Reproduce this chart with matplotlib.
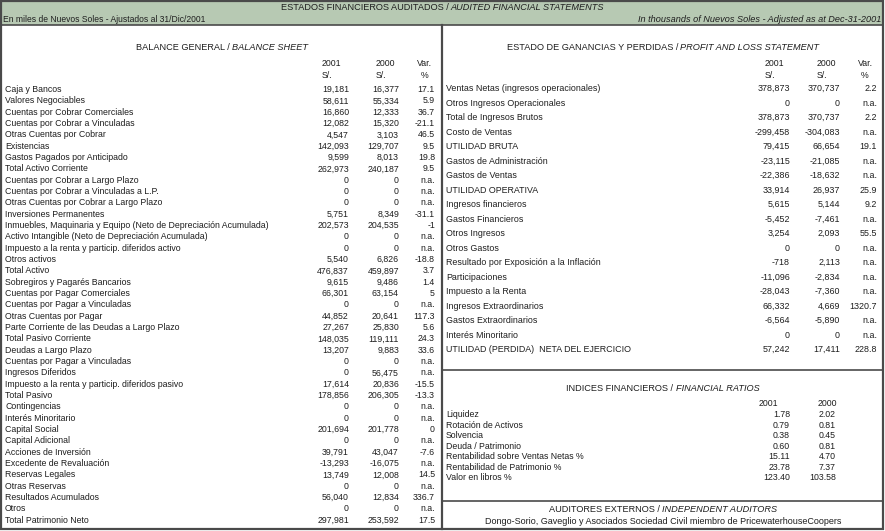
import matplotlib
matplotlib.use('Agg')
import matplotlib.pyplot as plt
from matplotlib.patches import Rectangle

plt.rcParams['font.family'] = ['Liberation Sans', 'DejaVu Sans']

# ---------------- DATA ----------------
title_es = "ESTADOS FINANCIEROS AUDITADOS /"
title_en = "AUDITED FINANCIAL STATEMENTS"
sub_left = "En miles de Nuevos Soles - Ajustados al 31/Dic/2001"
sub_right = "In thousands of Nuevos Soles - Adjusted as at Dec-31-2001"

bs_labels = [
    "Caja y Bancos", "Valores Negociables", "Cuentas por Cobrar Comerciales",
    "Cuentas por Cobrar a Vinculadas", "Otras Cuentas por Cobrar", "Existencias",
    "Gastos Pagados por Anticipado", "Total Activo Corriente",
    "Cuentas por Cobrar a Largo Plazo", "Cuentas por Cobrar a Vinculadas a L.P.",
    "Otras Cuentas por Cobrar a Largo Plazo", "Inversiones Permanentes",
    "Inmuebles, Maquinaria y Equipo (Neto de Depreciación Acumulada)",
    "Activo Intangible (Neto de Depreciación Acumulada)",
    "Impuesto a la renta y particip. diferidos activo", "Otros activos",
    "Total Activo", "Sobregiros y Pagarés Bancarios", "Cuentas por Pagar Comerciales",
    "Cuentas por Pagar a Vinculadas", "Otras Cuentas por Pagar",
    "Parte Corriente de las Deudas a Largo Plazo", "Total Pasivo Corriente",
    "Deudas a Largo Plazo", "Cuentas por Pagar a Vinculadas", "Ingresos Diferidos",
    "Impuesto a la renta y particip. diferidos pasivo", "Total Pasivo",
    "Contingencias", "Interés Minoritario", "Capital Social", "Capital Adicional",
    "Acciones de Inversión", "Excedente de Revaluación", "Reservas Legales",
    "Otras Reservas", "Resultados Acumulados", "Otros", "Total Patrimonio Neto",
]
bs_2001 = [19181, 58611, 16860, 12082, 4547, 142093, 9599, 262973, 0, 0, 0, 5751,
           202573, 0, 0, 5540, 476837, 9615, 66301, 0, 44852, 27267, 148035, 13207,
           0, 0, 17614, 178856, 0, 0, 201694, 0, 39791, -13293, 13749, 0, 56040, 0,
           297981]
bs_2000 = [16377, 55334, 12333, 15320, 3103, 129707, 8013, 240187, 0, 0, 0, 8349,
           204535, 0, 0, 6826, 459897, 9486, 63154, 0, 20641, 25830, 119111, 9883,
           0, 56475, 20836, 206305, 0, 0, 201778, 0, 43047, -16075, 12008, 0, 12834, 0,
           253592]
bs_var = [17.1, 5.9, 36.7, -21.1, 46.5, 9.5, 19.8, 9.5, None, None, None, -31.1,
          -1.0, None, None, -18.8, 3.7, 1.4, 5.0, None, 117.3, 5.6, 24.3, 33.6,
          None, None, -15.5, -13.3, None, None, 0.0, None, -7.6, None, 14.5, None,
          336.7, None, 17.5]

pl_labels = [
    "Ventas Netas (ingresos operacionales)", "Otros Ingresos Operacionales",
    "Total de Ingresos Brutos", "Costo de Ventas", "UTILIDAD BRUTA",
    "Gastos de Administración", "Gastos de Ventas", "UTILIDAD OPERATIVA",
    "Ingresos financieros", "Gastos Financieros", "Otros Ingresos", "Otros Gastos",
    "Resultado por Exposición a la Inflación", "Participaciones",
    "Impuesto a la Renta", "Ingresos Extraordinarios", "Gastos Extraordinarios",
    "Interés Minoritario", "UTILIDAD (PERDIDA)  NETA DEL EJERCICIO",
]
pl_2001 = [378873, 0, 378873, -299458, 79415, -23115, -22386, 33914, 5615, -5452,
           3254, 0, -718, -11096, -28043, 66332, -6564, 0, 57242]
pl_2000 = [370737, 0, 370737, -304083, 66654, -21085, -18632, 26937, 5144, -7461,
           2093, 0, 2113, -2834, -7360, 4669, -5890, 0, 17411]
pl_var = [2.2, None, 2.2, None, 19.1, None, None, 25.9, 9.2, None, 55.5, None,
          None, None, None, 1320.7, None, None, 228.8]

ratio_labels = ["Liquidez", "Rotación de Activos", "Solvencia", "Deuda / Patrimonio",
                "Rentabilidad sobre Ventas Netas %", "Rentabilidad de Patrimonio %",
                "Valor en libros %"]
ratio_2001 = [1.78, 0.79, 0.38, 0.60, 15.11, 23.78, 123.40]
ratio_2000 = [2.02, 0.81, 0.45, 0.81, 4.70, 7.37, 103.58]

col_years = ["2001", "2000"]
auditor_title_es = "AUDITORES EXTERNOS /"
auditor_title_en = "INDEPENDENT AUDITORS"
auditor_name = "Dongo-Sorio, Gaveglio y Asociados Sociedad Civil miembro de PricewaterhouseCoopers"

# ---------------- FIGURE ----------------
W, H = 885, 531
fig = plt.figure(figsize=(W / 100, H / 100), dpi=100)
ax = fig.add_axes([0, 0, 1, 1])
ax.set_xlim(0, W)
ax.set_ylim(H, 0)
ax.axis('off')
renderer = fig.canvas.get_renderer()

FS = 6.3
FS_T = 6.6
TXT = '#1e1e1e'
BAND = '#b7c9b3'
LINE = '#4a4a4a'


def t(x, y, s, ha='left', fontsize=FS, **kw):
    kw.setdefault('color', TXT)
    # y is the visual centre of capitals; place baseline below it
    off = fontsize * 100 / 72 * 0.716 / 2
    return ax.text(x, y + off, s, ha=ha, va='baseline', fontsize=fontsize, **kw)


def two_part(xc, y, a, b, fs=FS_T, gap=2.5):
    t1 = t(0, y, a, fontsize=fs)
    t2 = t(0, y, b, fontsize=fs, style='italic')
    w1 = t1.get_window_extent(renderer).width
    w2 = t2.get_window_extent(renderer).width
    x0 = xc - (w1 + gap + w2) / 2
    t1.set_x(x0)
    t2.set_x(x0 + w1 + gap)


def fmt_num(v):
    return f"{v:,}"


def fmt_var(v):
    return "n.a." if v is None else f"{v:g}"


# header band and frame
ax.add_patch(Rectangle((1, 1), W - 3, 24, facecolor=BAND, edgecolor='none'))
ax.add_patch(Rectangle((1, 1), W - 3, H - 3, facecolor='none', edgecolor=LINE, lw=1.6))
ax.plot([1, W - 2], [25, 25], color=LINE, lw=1.2)
ax.plot([442, 442], [25, H - 2], color=LINE, lw=1.6)
ax.plot([442, W - 2], [370, 370], color=LINE, lw=1.2)
ax.plot([442, W - 2], [501, 501], color=LINE, lw=1.2)

two_part(W / 2, 7, title_es, title_en)
t(3, 18.5, sub_left, fontsize=6.15)
t(881, 18.5, sub_right, ha='right', style='italic', fontsize=6.6)

# ---- balance sheet ----
two_part(222, 47, "BALANCE GENERAL /", "BALANCE SHEET")
t(322, 63, col_years[0]); t(322, 75, "S/.")
t(376, 63, col_years[1]); t(376, 75, "S/.")
t(417, 63, "Var."); t(425, 75, "%", ha='center')
y0, dy = 89, (519.5 - 89) / (len(bs_labels) - 1)
for i, lab in enumerate(bs_labels):
    y = y0 + i * dy
    t(5, y, lab)
    t(349, y, fmt_num(bs_2001[i]), ha='right')
    t(399, y, fmt_num(bs_2000[i]), ha='right')
    t(435, y, fmt_var(bs_var[i]), ha='right')

# ---- profit and loss ----
two_part(663, 47, "ESTADO DE GANANCIAS Y PERDIDAS /", "PROFIT AND LOSS STATEMENT")
t(765, 63, col_years[0]); t(765, 75, "S/.")
t(817, 63, col_years[1]); t(817, 75, "S/.")
t(858, 63, "Var."); t(865, 75, "%", ha='center')
y0, dy = 88, (349 - 88) / (len(pl_labels) - 1)
for i, lab in enumerate(pl_labels):
    y = y0 + i * dy
    t(446, y, lab, fontsize=6.4)
    t(790, y, fmt_num(pl_2001[i]), ha='right', fontsize=6.4)
    t(840, y, fmt_num(pl_2000[i]), ha='right', fontsize=6.4)
    t(877, y, fmt_var(pl_var[i]), ha='right', fontsize=6.4)

# ---- ratios ----
two_part(663, 388, "INDICES FINANCIEROS /", "FINANCIAL RATIOS")
t(759, 403, col_years[0]); t(818, 403, col_years[1])
y0, dy = 414, (477 - 414) / (len(ratio_labels) - 1)
for i, lab in enumerate(ratio_labels):
    y = y0 + i * dy
    t(446, y, lab)
    t(790, y, f"{ratio_2001[i]:.2f}", ha='right')
    t(836, y, f"{ratio_2000[i]:.2f}", ha='right')

# ---- auditors ----
two_part(663, 509, auditor_title_es, auditor_title_en)
t(663, 520.5, auditor_name, ha='center', fontsize=6.5)

fig.savefig('out.png', dpi=100)
